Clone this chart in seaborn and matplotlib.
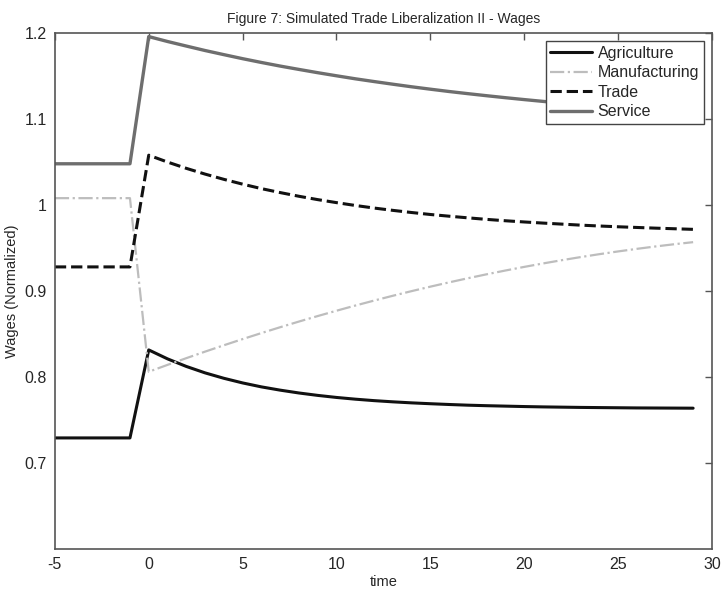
import numpy as np
import pandas as pd
import matplotlib
matplotlib.use("Agg")
import matplotlib.pyplot as plt
import seaborn as sns

# ---- data ----
time = list(range(-5, 30))

agriculture = [0.729, 0.729, 0.729, 0.729, 0.729,
               0.8314, 0.8210, 0.8122, 0.8047, 0.7984, 0.7930, 0.7884, 0.7846, 0.7813, 0.7785,
               0.7761, 0.7741, 0.7724, 0.7710, 0.7698, 0.7688, 0.7679, 0.7671, 0.7665, 0.7660,
               0.7655, 0.7651, 0.7648, 0.7645, 0.7643, 0.7641, 0.7639, 0.7638, 0.7637, 0.7636]

manufacturing = [1.008, 1.008, 1.008, 1.008, 1.008,
                 0.8060, 0.8140, 0.8218, 0.8294, 0.8368, 0.8440, 0.8510, 0.8578, 0.8644, 0.8708,
                 0.8770, 0.8830, 0.8888, 0.8944, 0.8998, 0.9050, 0.9100, 0.9148, 0.9194, 0.9238,
                 0.9280, 0.9320, 0.9358, 0.9394, 0.9428, 0.9460, 0.9490, 0.9518, 0.9544, 0.9568]

trade = [0.928, 0.928, 0.928, 0.928, 0.928,
         1.0580, 1.0500, 1.0427, 1.0360, 1.0299, 1.0243, 1.0191, 1.0145, 1.0102, 1.0063,
         1.0028, 0.9995, 0.9965, 0.9938, 0.9913, 0.9890, 0.9870, 0.9851, 0.9833, 0.9817,
         0.9803, 0.9790, 0.9778, 0.9766, 0.9756, 0.9747, 0.9739, 0.9731, 0.9724, 0.9717]

service = [1.048, 1.048, 1.048, 1.048, 1.048,
           1.1960, 1.1903, 1.1850, 1.1798, 1.1750, 1.1703, 1.1659, 1.1617, 1.1578, 1.1540,
           1.1504, 1.1469, 1.1437, 1.1406, 1.1376, 1.1348, 1.1321, 1.1296, 1.1272, 1.1249,
           1.1227, 1.1206, 1.1186, 1.1167, 1.1149, 1.1132, 1.1116, 1.1101, 1.1086, 1.1072]

series_names = ["Agriculture", "Manufacturing", "Trade", "Service"]
xticks = [-5, 0, 5, 10, 15, 20, 25, 30]
yticks = [0.7, 0.8, 0.9, 1.0, 1.1, 1.2]
ytick_labels = ["0.7", "0.8", "0.9", "1", "1.1", "1.2"]

# ---- styling ----
sns.set_style("white")
plt.rcParams["font.family"] = ["Liberation Sans", "DejaVu Sans"]

fig = plt.figure(figsize=(7.22, 5.92), dpi=100)
ax = fig.add_axes([0.076, 0.073, 0.910, 0.871])

styles = {
    "Agriculture":   dict(color="#111111", linestyle="-", linewidth=2.2),
    "Manufacturing": dict(color="#bdbdbd", linestyle="-.", linewidth=1.6),
    "Trade":         dict(color="#111111", linestyle="--", linewidth=2.2),
    "Service":       dict(color="#6e6e6e", linestyle="-", linewidth=2.4),
}
values = {"Agriculture": agriculture, "Manufacturing": manufacturing,
          "Trade": trade, "Service": service}

for name in series_names:
    df = pd.DataFrame({"time": time, "wage": values[name]})
    sns.lineplot(data=df, x="time", y="wage", ax=ax, label=name, **styles[name])

ax.set_xlim(-5, 30)
ax.set_ylim(0.6, 1.2)
ax.set_xticks(xticks)
ax.set_xticklabels([str(v) for v in xticks])
ax.set_yticks(yticks)
ax.set_yticklabels(ytick_labels)

ax.tick_params(direction="in", length=5, width=1, color="#555555",
               top=True, right=True, labelsize=11.5, pad=6)
for sp in ax.spines.values():
    sp.set_color("#555555")
    sp.set_linewidth(1.2)

ax.set_xlabel("time", fontsize=10.5, labelpad=2)
ax.set_ylabel("Wages (Normalized)", fontsize=10.5, labelpad=4)
ax.set_title("Figure 7: Simulated Trade Liberalization II - Wages", fontsize=10, pad=7)

leg = ax.legend(loc="upper right", fontsize=11.5, frameon=True, fancybox=False,
                edgecolor="#444444", framealpha=1, borderpad=0.3, labelspacing=0.28,
                handlelength=2.6, handletextpad=0.35, borderaxespad=0.5)
leg.get_frame().set_linewidth(1.0)

fig.savefig("out.png", dpi=100)
